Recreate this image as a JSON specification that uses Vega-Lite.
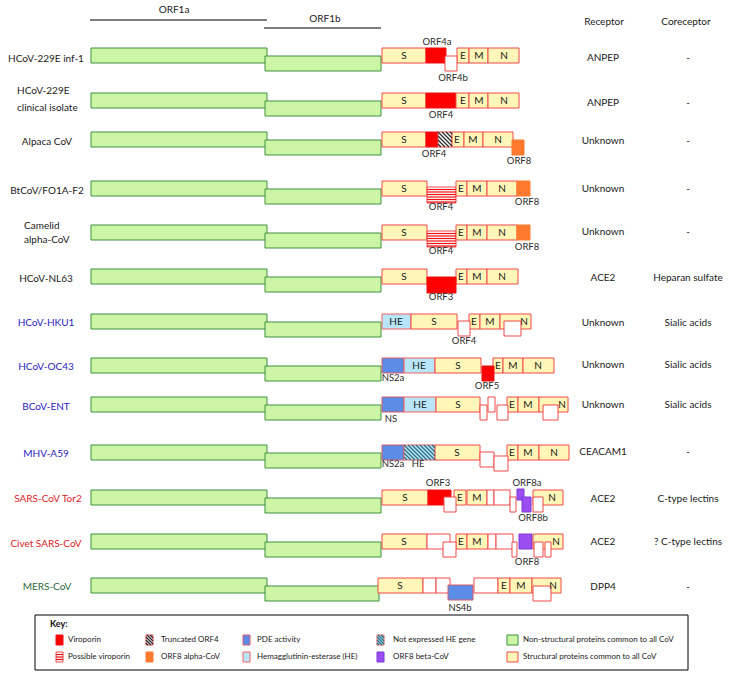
{
  "$schema": "https://vega.github.io/schema/vega-lite/v6.json",
  "width": 734,
  "height": 677,
  "autosize": {"type": "fit", "contains": "padding"},
  "padding": 0,
  "background": "#ffffff",
  "config": {"view": {"stroke": null}, "text": {"font": "Lato"}},
  "resolve": {"scale": {"color": "independent", "fill": "independent", "stroke": "independent"}},
  "datasets": {
    "boxes": [
      {"x0": 35, "x1": 688, "y0": 615, "y1": 670, "cat": "frame"},
      {"x0": 91, "x1": 267, "y0": 48, "y1": 63, "cat": "nsp"},
      {"x0": 265, "x1": 381, "y0": 56, "y1": 71, "cat": "nsp"},
      {"x0": 382, "x1": 426, "y0": 48, "y1": 63, "cat": "struct"},
      {"x0": 426, "x1": 446, "y0": 48, "y1": 63, "cat": "vir"},
      {"x0": 457, "x1": 469, "y0": 48, "y1": 63, "cat": "struct"},
      {"x0": 469, "x1": 488, "y0": 48, "y1": 63, "cat": "struct"},
      {"x0": 488, "x1": 519, "y0": 48, "y1": 63, "cat": "struct"},
      {"x0": 445, "x1": 457, "y0": 56, "y1": 71, "cat": "acc"},

      {"x0": 91, "x1": 267, "y0": 93, "y1": 108, "cat": "nsp"},
      {"x0": 265, "x1": 381, "y0": 101, "y1": 116, "cat": "nsp"},
      {"x0": 382, "x1": 426, "y0": 93, "y1": 108, "cat": "struct"},
      {"x0": 426, "x1": 456, "y0": 93, "y1": 108, "cat": "vir"},
      {"x0": 456, "x1": 469, "y0": 93, "y1": 108, "cat": "struct"},
      {"x0": 469, "x1": 488, "y0": 93, "y1": 108, "cat": "struct"},
      {"x0": 488, "x1": 519, "y0": 93, "y1": 108, "cat": "struct"},

      {"x0": 91, "x1": 267, "y0": 132, "y1": 147, "cat": "nsp"},
      {"x0": 265, "x1": 381, "y0": 140, "y1": 155, "cat": "nsp"},
      {"x0": 382, "x1": 426, "y0": 132, "y1": 147, "cat": "struct"},
      {"x0": 426, "x1": 438, "y0": 132, "y1": 147, "cat": "vir"},
      {"x0": 438, "x1": 452, "y0": 132, "y1": 147, "cat": "trunc"},
      {"x0": 452, "x1": 464, "y0": 132, "y1": 147, "cat": "struct"},
      {"x0": 464, "x1": 483, "y0": 132, "y1": 147, "cat": "struct"},
      {"x0": 483, "x1": 513, "y0": 132, "y1": 147, "cat": "struct"},
      {"x0": 512, "x1": 524, "y0": 140, "y1": 155, "cat": "orf8a"},

      {"x0": 91, "x1": 267, "y0": 181, "y1": 196, "cat": "nsp"},
      {"x0": 265, "x1": 381, "y0": 189, "y1": 204, "cat": "nsp"},
      {"x0": 382, "x1": 427, "y0": 181, "y1": 196, "cat": "struct"},
      {"x0": 427, "x1": 456, "y0": 187, "y1": 203, "cat": "poss"},
      {"x0": 456, "x1": 467, "y0": 181, "y1": 196, "cat": "struct"},
      {"x0": 467, "x1": 487, "y0": 181, "y1": 196, "cat": "struct"},
      {"x0": 487, "x1": 517, "y0": 181, "y1": 196, "cat": "struct"},
      {"x0": 517, "x1": 530, "y0": 181, "y1": 196, "cat": "orf8a"},

      {"x0": 91, "x1": 267, "y0": 225, "y1": 240, "cat": "nsp"},
      {"x0": 265, "x1": 381, "y0": 233, "y1": 248, "cat": "nsp"},
      {"x0": 382, "x1": 427, "y0": 225, "y1": 240, "cat": "struct"},
      {"x0": 427, "x1": 456, "y0": 231, "y1": 247, "cat": "poss"},
      {"x0": 456, "x1": 467, "y0": 225, "y1": 240, "cat": "struct"},
      {"x0": 467, "x1": 487, "y0": 225, "y1": 240, "cat": "struct"},
      {"x0": 487, "x1": 517, "y0": 225, "y1": 240, "cat": "struct"},
      {"x0": 517, "x1": 530, "y0": 225, "y1": 240, "cat": "orf8a"},

      {"x0": 91, "x1": 267, "y0": 269, "y1": 284, "cat": "nsp"},
      {"x0": 265, "x1": 381, "y0": 277, "y1": 292, "cat": "nsp"},
      {"x0": 382, "x1": 427, "y0": 269, "y1": 284, "cat": "struct"},
      {"x0": 456, "x1": 467, "y0": 269, "y1": 284, "cat": "struct"},
      {"x0": 467, "x1": 487, "y0": 269, "y1": 284, "cat": "struct"},
      {"x0": 487, "x1": 518, "y0": 269, "y1": 284, "cat": "struct"},
      {"x0": 427, "x1": 456, "y0": 277, "y1": 293, "cat": "vir"},

      {"x0": 91, "x1": 267, "y0": 314, "y1": 329, "cat": "nsp"},
      {"x0": 265, "x1": 381, "y0": 322, "y1": 337, "cat": "nsp"},
      {"x0": 382, "x1": 411, "y0": 314, "y1": 329, "cat": "he"},
      {"x0": 411, "x1": 457, "y0": 314, "y1": 329, "cat": "struct"},
      {"x0": 469, "x1": 480, "y0": 314, "y1": 329, "cat": "struct"},
      {"x0": 480, "x1": 500, "y0": 314, "y1": 329, "cat": "struct"},
      {"x0": 500, "x1": 531, "y0": 314, "y1": 329, "cat": "struct"},
      {"x0": 458, "x1": 470, "y0": 321, "y1": 336, "cat": "acc"},
      {"x0": 504, "x1": 521, "y0": 321, "y1": 336, "cat": "acc"},

      {"x0": 91, "x1": 267, "y0": 358, "y1": 373, "cat": "nsp"},
      {"x0": 265, "x1": 381, "y0": 366, "y1": 381, "cat": "nsp"},
      {"x0": 382, "x1": 404, "y0": 358, "y1": 373, "cat": "pde"},
      {"x0": 404, "x1": 435, "y0": 358, "y1": 373, "cat": "he"},
      {"x0": 435, "x1": 481, "y0": 358, "y1": 373, "cat": "struct"},
      {"x0": 493, "x1": 503, "y0": 358, "y1": 373, "cat": "struct"},
      {"x0": 503, "x1": 523, "y0": 358, "y1": 373, "cat": "struct"},
      {"x0": 523, "x1": 554, "y0": 358, "y1": 373, "cat": "struct"},
      {"x0": 482, "x1": 494, "y0": 366, "y1": 381, "cat": "vir"},

      {"x0": 91, "x1": 267, "y0": 397, "y1": 412, "cat": "nsp"},
      {"x0": 265, "x1": 381, "y0": 405, "y1": 420, "cat": "nsp"},
      {"x0": 382, "x1": 404, "y0": 397, "y1": 412, "cat": "pde"},
      {"x0": 404, "x1": 436, "y0": 397, "y1": 412, "cat": "he"},
      {"x0": 436, "x1": 480, "y0": 397, "y1": 412, "cat": "struct"},
      {"x0": 488, "x1": 495, "y0": 397, "y1": 412, "cat": "acc"},
      {"x0": 507, "x1": 518, "y0": 397, "y1": 412, "cat": "struct"},
      {"x0": 518, "x1": 539, "y0": 397, "y1": 412, "cat": "struct"},
      {"x0": 539, "x1": 568, "y0": 397, "y1": 412, "cat": "struct"},
      {"x0": 480, "x1": 487, "y0": 405, "y1": 420, "cat": "acc"},
      {"x0": 497, "x1": 508, "y0": 405, "y1": 420, "cat": "acc"},
      {"x0": 543, "x1": 558, "y0": 405, "y1": 420, "cat": "acc"},

      {"x0": 91, "x1": 267, "y0": 445, "y1": 460, "cat": "nsp"},
      {"x0": 265, "x1": 381, "y0": 453, "y1": 468, "cat": "nsp"},
      {"x0": 382, "x1": 404, "y0": 445, "y1": 460, "cat": "pde"},
      {"x0": 404, "x1": 435, "y0": 445, "y1": 460, "cat": "nothe"},
      {"x0": 435, "x1": 480, "y0": 445, "y1": 460, "cat": "struct"},
      {"x0": 507, "x1": 518, "y0": 445, "y1": 460, "cat": "struct"},
      {"x0": 518, "x1": 539, "y0": 445, "y1": 460, "cat": "struct"},
      {"x0": 539, "x1": 569, "y0": 445, "y1": 460, "cat": "struct"},
      {"x0": 480, "x1": 494, "y0": 452, "y1": 467, "cat": "acc"},
      {"x0": 494, "x1": 508, "y0": 456, "y1": 471, "cat": "acc"},

      {"x0": 91, "x1": 267, "y0": 490, "y1": 505, "cat": "nsp"},
      {"x0": 265, "x1": 381, "y0": 498, "y1": 513, "cat": "nsp"},
      {"x0": 382, "x1": 428, "y0": 490, "y1": 505, "cat": "struct"},
      {"x0": 428, "x1": 451, "y0": 490, "y1": 505, "cat": "vir"},
      {"x0": 454, "x1": 466, "y0": 490, "y1": 505, "cat": "struct"},
      {"x0": 467, "x1": 487, "y0": 490, "y1": 505, "cat": "struct"},
      {"x0": 487, "x1": 494, "y0": 490, "y1": 505, "cat": "acc"},
      {"x0": 494, "x1": 510, "y0": 490, "y1": 505, "cat": "acc"},
      {"x0": 533, "x1": 563, "y0": 490, "y1": 505, "cat": "struct"},
      {"x0": 444, "x1": 456, "y0": 497, "y1": 512, "cat": "acc"},
      {"x0": 510, "x1": 516, "y0": 497, "y1": 512, "cat": "acc"},
      {"x0": 517, "x1": 524, "y0": 489, "y1": 500, "cat": "orf8b"},
      {"x0": 522, "x1": 531, "y0": 497, "y1": 512, "cat": "orf8b"},
      {"x0": 533, "x1": 543, "y0": 497, "y1": 512, "cat": "acc"},

      {"x0": 91, "x1": 267, "y0": 534, "y1": 549, "cat": "nsp"},
      {"x0": 265, "x1": 381, "y0": 542, "y1": 557, "cat": "nsp"},
      {"x0": 382, "x1": 427, "y0": 534, "y1": 549, "cat": "struct"},
      {"x0": 427, "x1": 450, "y0": 534, "y1": 549, "cat": "acc"},
      {"x0": 456, "x1": 467, "y0": 534, "y1": 549, "cat": "struct"},
      {"x0": 467, "x1": 488, "y0": 534, "y1": 549, "cat": "struct"},
      {"x0": 488, "x1": 496, "y0": 534, "y1": 549, "cat": "acc"},
      {"x0": 496, "x1": 513, "y0": 534, "y1": 549, "cat": "acc"},
      {"x0": 519, "x1": 532, "y0": 534, "y1": 549, "cat": "orf8b"},
      {"x0": 533, "x1": 563, "y0": 534, "y1": 549, "cat": "struct"},
      {"x0": 443, "x1": 456, "y0": 542, "y1": 557, "cat": "acc"},
      {"x0": 512, "x1": 517, "y0": 542, "y1": 557, "cat": "acc"},
      {"x0": 534, "x1": 543, "y0": 542, "y1": 557, "cat": "acc"},
      {"x0": 545, "x1": 551, "y0": 542, "y1": 557, "cat": "acc"},

      {"x0": 91, "x1": 267, "y0": 578, "y1": 593, "cat": "nsp"},
      {"x0": 265, "x1": 379, "y0": 586, "y1": 601, "cat": "nsp"},
      {"x0": 378, "x1": 423, "y0": 578, "y1": 593, "cat": "struct"},
      {"x0": 423, "x1": 436, "y0": 578, "y1": 593, "cat": "acc"},
      {"x0": 436, "x1": 450, "y0": 578, "y1": 593, "cat": "acc"},
      {"x0": 474, "x1": 498, "y0": 578, "y1": 593, "cat": "acc"},
      {"x0": 498, "x1": 510, "y0": 578, "y1": 593, "cat": "struct"},
      {"x0": 510, "x1": 532, "y0": 578, "y1": 593, "cat": "struct"},
      {"x0": 532, "x1": 561, "y0": 578, "y1": 593, "cat": "struct"},
      {"x0": 533, "x1": 551, "y0": 586, "y1": 601, "cat": "acc"},
      {"x0": 448, "x1": 473, "y0": 585, "y1": 600, "cat": "pde"},

      {"x0": 56, "x1": 63, "y0": 635, "y1": 645, "cat": "vir"},
      {"x0": 56, "x1": 63, "y0": 652, "y1": 662, "cat": "poss"},
      {"x0": 146, "x1": 153, "y0": 635, "y1": 645, "cat": "trunc"},
      {"x0": 146, "x1": 153, "y0": 652, "y1": 662, "cat": "orf8a"},
      {"x0": 243, "x1": 250, "y0": 635, "y1": 645, "cat": "pde"},
      {"x0": 243, "x1": 250, "y0": 652, "y1": 662, "cat": "he"},
      {"x0": 377, "x1": 384, "y0": 635, "y1": 645, "cat": "nothe"},
      {"x0": 377, "x1": 384, "y0": 652, "y1": 662, "cat": "orf8b"},
      {"x0": 507, "x1": 518, "y0": 635, "y1": 645, "cat": "nsp"},
      {"x0": 507, "x1": 518, "y0": 652, "y1": 662, "cat": "struct"}
    ],
    "lines": [
      {"x0": 90, "y0": 20, "x1": 267, "y1": 20, "cat": "hdr"},
      {"x0": 264, "y0": 28, "x1": 381, "y1": 28, "cat": "hdr"},

      {"x0": 427, "y0": 189.5, "x1": 456, "y1": 189.5, "cat": "poss"},
      {"x0": 427, "y0": 192, "x1": 456, "y1": 192, "cat": "poss"},
      {"x0": 427, "y0": 194.5, "x1": 456, "y1": 194.5, "cat": "poss"},
      {"x0": 427, "y0": 197, "x1": 456, "y1": 197, "cat": "poss"},
      {"x0": 427, "y0": 199.5, "x1": 456, "y1": 199.5, "cat": "poss"},
      {"x0": 427, "y0": 202, "x1": 456, "y1": 202, "cat": "poss"},
      {"x0": 427, "y0": 233.5, "x1": 456, "y1": 233.5, "cat": "poss"},
      {"x0": 427, "y0": 236, "x1": 456, "y1": 236, "cat": "poss"},
      {"x0": 427, "y0": 238.5, "x1": 456, "y1": 238.5, "cat": "poss"},
      {"x0": 427, "y0": 241, "x1": 456, "y1": 241, "cat": "poss"},
      {"x0": 427, "y0": 243.5, "x1": 456, "y1": 243.5, "cat": "poss"},
      {"x0": 427, "y0": 246, "x1": 456, "y1": 246, "cat": "poss"},
      {"x0": 56, "y0": 654.5, "x1": 63, "y1": 654.5, "cat": "poss"},
      {"x0": 56, "y0": 657, "x1": 63, "y1": 657, "cat": "poss"},
      {"x0": 56, "y0": 659.5, "x1": 63, "y1": 659.5, "cat": "poss"},

      {"x0": 438, "y0": 144, "x1": 441, "y1": 147, "cat": "trunc"},
      {"x0": 438, "y0": 140, "x1": 445, "y1": 147, "cat": "trunc"},
      {"x0": 438, "y0": 136, "x1": 449, "y1": 147, "cat": "trunc"},
      {"x0": 438, "y0": 132, "x1": 452, "y1": 146, "cat": "trunc"},
      {"x0": 442, "y0": 132, "x1": 452, "y1": 142, "cat": "trunc"},
      {"x0": 446, "y0": 132, "x1": 452, "y1": 138, "cat": "trunc"},
      {"x0": 450, "y0": 132, "x1": 452, "y1": 134, "cat": "trunc"},
      {"x0": 146, "y0": 643, "x1": 148, "y1": 645, "cat": "trunc"},
      {"x0": 146, "y0": 640, "x1": 151, "y1": 645, "cat": "trunc"},
      {"x0": 146, "y0": 637, "x1": 153, "y1": 644, "cat": "trunc"},
      {"x0": 147, "y0": 635, "x1": 153, "y1": 641, "cat": "trunc"},
      {"x0": 150, "y0": 635, "x1": 153, "y1": 638, "cat": "trunc"},

      {"x0": 404, "y0": 457, "x1": 407, "y1": 460, "cat": "nothe"},
      {"x0": 404, "y0": 453, "x1": 411, "y1": 460, "cat": "nothe"},
      {"x0": 404, "y0": 449, "x1": 415, "y1": 460, "cat": "nothe"},
      {"x0": 404, "y0": 445, "x1": 419, "y1": 460, "cat": "nothe"},
      {"x0": 408, "y0": 445, "x1": 423, "y1": 460, "cat": "nothe"},
      {"x0": 412, "y0": 445, "x1": 427, "y1": 460, "cat": "nothe"},
      {"x0": 416, "y0": 445, "x1": 431, "y1": 460, "cat": "nothe"},
      {"x0": 420, "y0": 445, "x1": 435, "y1": 460, "cat": "nothe"},
      {"x0": 424, "y0": 445, "x1": 435, "y1": 456, "cat": "nothe"},
      {"x0": 428, "y0": 445, "x1": 435, "y1": 452, "cat": "nothe"},
      {"x0": 432, "y0": 445, "x1": 435, "y1": 448, "cat": "nothe"},
      {"x0": 377, "y0": 643, "x1": 379, "y1": 645, "cat": "nothe"},
      {"x0": 377, "y0": 640, "x1": 382, "y1": 645, "cat": "nothe"},
      {"x0": 377, "y0": 637, "x1": 384, "y1": 644, "cat": "nothe"},
      {"x0": 378, "y0": 635, "x1": 384, "y1": 641, "cat": "nothe"},
      {"x0": 381, "y0": 635, "x1": 384, "y1": 638, "cat": "nothe"}
    ],
    "texts": [
      {"t": "HCoV-229E inf-1", "x": 46, "y": 59, "k": "sp", "g": "a"},
      {"t": "Alpaca CoV", "x": 47, "y": 142, "k": "sp", "g": "a"},
      {"t": "BtCoV/FO1A-F2", "x": 47, "y": 191, "k": "sp", "g": "a"},
      {"t": "HCoV-NL63", "x": 46, "y": 279, "k": "sp", "g": "a"},
      {"t": "HCoV-HKU1", "x": 46, "y": 323, "k": "sp", "g": "b"},
      {"t": "HCoV-OC43", "x": 46, "y": 367, "k": "sp", "g": "b"},
      {"t": "BCoV-ENT", "x": 46, "y": 407, "k": "sp", "g": "b"},
      {"t": "MHV-A59", "x": 46, "y": 454, "k": "sp", "g": "b"},
      {"t": "SARS-CoV Tor2", "x": 48, "y": 499, "k": "sp", "g": "s"},
      {"t": "Civet SARS-CoV", "x": 46, "y": 544, "k": "sp", "g": "s"},
      {"t": "MERS-CoV", "x": 47, "y": 587, "k": "sp", "g": "m"},

      {"t": "HCoV-229E", "x": 17, "y": 91, "k": "spl"},
      {"t": "clinical isolate", "x": 17, "y": 108, "k": "spl"},
      {"t": "Camelid", "x": 24, "y": 226, "k": "spl"},
      {"t": "alpha-CoV", "x": 24, "y": 240, "k": "spl"},

      {"t": "ORF1a", "x": 174, "y": 10, "k": "col"},
      {"t": "ORF1b", "x": 325, "y": 19, "k": "col"},
      {"t": "Receptor", "x": 604, "y": 22, "k": "col"},
      {"t": "Coreceptor", "x": 686, "y": 22, "k": "col"},
      {"t": "ANPEP", "x": 603, "y": 58, "k": "col"},
      {"t": "ANPEP", "x": 603, "y": 103, "k": "col"},
      {"t": "Unknown", "x": 603, "y": 141, "k": "col"},
      {"t": "Unknown", "x": 603, "y": 189, "k": "col"},
      {"t": "Unknown", "x": 603, "y": 232, "k": "col"},
      {"t": "ACE2", "x": 603, "y": 278, "k": "col"},
      {"t": "Unknown", "x": 603, "y": 323, "k": "col"},
      {"t": "Unknown", "x": 603, "y": 365, "k": "col"},
      {"t": "Unknown", "x": 603, "y": 405, "k": "col"},
      {"t": "CEACAM1", "x": 603, "y": 452, "k": "col"},
      {"t": "ACE2", "x": 603, "y": 499, "k": "col"},
      {"t": "ACE2", "x": 603, "y": 542, "k": "col"},
      {"t": "DPP4", "x": 603, "y": 587, "k": "col"},
      {"t": "-", "x": 688, "y": 58, "k": "col"},
      {"t": "-", "x": 688, "y": 103, "k": "col"},
      {"t": "-", "x": 688, "y": 141, "k": "col"},
      {"t": "-", "x": 688, "y": 189, "k": "col"},
      {"t": "-", "x": 688, "y": 232, "k": "col"},
      {"t": "Heparan sulfate", "x": 688, "y": 278, "k": "col"},
      {"t": "Sialic acids", "x": 688, "y": 323, "k": "col"},
      {"t": "Sialic acids", "x": 688, "y": 365, "k": "col"},
      {"t": "Sialic acids", "x": 688, "y": 405, "k": "col"},
      {"t": "-", "x": 688, "y": 452, "k": "col"},
      {"t": "C-type lectins", "x": 688, "y": 499, "k": "col"},
      {"t": "? C-type lectins", "x": 688, "y": 542, "k": "col"},
      {"t": "-", "x": 688, "y": 587, "k": "col"},

      {"t": "S", "x": 404, "y": 56, "k": "box"},
      {"t": "E", "x": 463, "y": 56, "k": "box"},
      {"t": "M", "x": 479, "y": 56, "k": "box"},
      {"t": "N", "x": 504, "y": 56, "k": "box"},
      {"t": "S", "x": 404, "y": 101, "k": "box"},
      {"t": "E", "x": 463, "y": 101, "k": "box"},
      {"t": "M", "x": 479, "y": 101, "k": "box"},
      {"t": "N", "x": 504, "y": 101, "k": "box"},
      {"t": "S", "x": 404, "y": 140, "k": "box"},
      {"t": "E", "x": 457, "y": 140, "k": "box"},
      {"t": "M", "x": 473, "y": 140, "k": "box"},
      {"t": "N", "x": 498, "y": 140, "k": "box"},
      {"t": "S", "x": 404, "y": 189, "k": "box"},
      {"t": "E", "x": 461, "y": 189, "k": "box"},
      {"t": "M", "x": 477, "y": 189, "k": "box"},
      {"t": "N", "x": 502, "y": 189, "k": "box"},
      {"t": "S", "x": 404, "y": 233, "k": "box"},
      {"t": "E", "x": 461, "y": 233, "k": "box"},
      {"t": "M", "x": 477, "y": 233, "k": "box"},
      {"t": "N", "x": 502, "y": 233, "k": "box"},
      {"t": "S", "x": 404, "y": 277, "k": "box"},
      {"t": "E", "x": 461, "y": 277, "k": "box"},
      {"t": "M", "x": 477, "y": 277, "k": "box"},
      {"t": "N", "x": 502, "y": 277, "k": "box"},
      {"t": "HE", "x": 396, "y": 322, "k": "box"},
      {"t": "S", "x": 434, "y": 322, "k": "box"},
      {"t": "E", "x": 474, "y": 322, "k": "box"},
      {"t": "M", "x": 490, "y": 322, "k": "box"},
      {"t": "N", "x": 524, "y": 322, "k": "box"},
      {"t": "HE", "x": 419, "y": 366, "k": "box"},
      {"t": "S", "x": 458, "y": 366, "k": "box"},
      {"t": "E", "x": 498, "y": 366, "k": "box"},
      {"t": "M", "x": 513, "y": 366, "k": "box"},
      {"t": "N", "x": 538, "y": 366, "k": "box"},
      {"t": "HE", "x": 420, "y": 405, "k": "box"},
      {"t": "S", "x": 458, "y": 405, "k": "box"},
      {"t": "E", "x": 512, "y": 405, "k": "box"},
      {"t": "M", "x": 528, "y": 405, "k": "box"},
      {"t": "N", "x": 562, "y": 405, "k": "box"},
      {"t": "S", "x": 457, "y": 453, "k": "box"},
      {"t": "E", "x": 512, "y": 453, "k": "box"},
      {"t": "M", "x": 528, "y": 453, "k": "box"},
      {"t": "N", "x": 554, "y": 453, "k": "box"},
      {"t": "S", "x": 405, "y": 498, "k": "box"},
      {"t": "E", "x": 460, "y": 498, "k": "box"},
      {"t": "M", "x": 477, "y": 498, "k": "box"},
      {"t": "N", "x": 552, "y": 498, "k": "box"},
      {"t": "S", "x": 404, "y": 542, "k": "box"},
      {"t": "E", "x": 461, "y": 542, "k": "box"},
      {"t": "M", "x": 477, "y": 542, "k": "box"},
      {"t": "N", "x": 556, "y": 542, "k": "box"},
      {"t": "S", "x": 400, "y": 586, "k": "box"},
      {"t": "E", "x": 504, "y": 586, "k": "box"},
      {"t": "M", "x": 521, "y": 586, "k": "box"},
      {"t": "N", "x": 553, "y": 586, "k": "box"},

      {"t": "ORF4a", "x": 437, "y": 42, "k": "orf"},
      {"t": "ORF4b", "x": 453, "y": 78, "k": "orf"},
      {"t": "ORF4", "x": 441, "y": 115, "k": "orf"},
      {"t": "ORF4", "x": 434, "y": 154, "k": "orf"},
      {"t": "ORF8", "x": 519, "y": 161, "k": "orf"},
      {"t": "ORF4", "x": 441, "y": 207, "k": "orf"},
      {"t": "ORF8", "x": 527, "y": 202, "k": "orf"},
      {"t": "ORF4", "x": 441, "y": 251, "k": "orf"},
      {"t": "ORF8", "x": 527, "y": 247, "k": "orf"},
      {"t": "ORF3", "x": 441, "y": 297, "k": "orf"},
      {"t": "ORF4", "x": 464, "y": 341, "k": "orf"},
      {"t": "NS2a", "x": 393, "y": 378, "k": "orf"},
      {"t": "ORF5", "x": 487, "y": 386, "k": "orf"},
      {"t": "NS", "x": 391, "y": 419, "k": "orf"},
      {"t": "NS2a", "x": 393, "y": 464, "k": "orf"},
      {"t": "HE", "x": 418, "y": 464, "k": "orf"},
      {"t": "ORF3", "x": 438, "y": 483, "k": "orf"},
      {"t": "ORF8a", "x": 527, "y": 483, "k": "orf"},
      {"t": "ORF8b", "x": 533, "y": 518, "k": "orf"},
      {"t": "ORF8", "x": 527, "y": 562, "k": "orf"},
      {"t": "NS4b", "x": 460, "y": 608, "k": "orf"},

      {"t": "Viroporin", "x": 68, "y": 640, "k": "leg"},
      {"t": "Truncated ORF4", "x": 161, "y": 640, "k": "leg"},
      {"t": "PDE activity", "x": 257, "y": 640, "k": "leg"},
      {"t": "Not expressed HE gene", "x": 393, "y": 640, "k": "leg"},
      {"t": "Non-structural proteins common to all CoV", "x": 523, "y": 640, "k": "leg"},
      {"t": "Possible viroporin", "x": 68, "y": 657, "k": "leg"},
      {"t": "ORF8 alpha-CoV", "x": 161, "y": 657, "k": "leg"},
      {"t": "Hemagglutinin-esterase (HE)", "x": 257, "y": 657, "k": "leg"},
      {"t": "ORF8 beta-CoV", "x": 393, "y": 657, "k": "leg"},
      {"t": "Structural proteins common to all CoV", "x": 523, "y": 657, "k": "leg"},
      {"t": "Key:", "x": 50, "y": 624, "k": "key"}
    ]
  },
  "layer": [
    {
      "data": {"name": "boxes"},
      "mark": {"type": "rect", "strokeWidth": 1},
      "encoding": {
        "x": {"field": "x0", "type": "quantitative", "scale": {"domain": [0, 734], "nice": false, "zero": false}, "axis": null},
        "x2": {"field": "x1"},
        "y": {"field": "y0", "type": "quantitative", "scale": {"domain": [0, 677], "nice": false, "zero": false, "reverse": true}, "axis": null},
        "y2": {"field": "y1"},
        "fill": {"field": "cat", "type": "nominal", "legend": null, "scale": {"domain": ["frame", "nsp", "struct", "acc", "vir", "poss", "trunc", "pde", "he", "nothe", "orf8a", "orf8b"], "range": ["#ffffff", "#ccf5a6", "#fff6b8", "#ffffff", "#ff0000", "#ffffff", "#ffffff", "#5b8de6", "#b8e6f8", "#b8e6f8", "#ff7a2c", "#9b4df2"]}},
        "stroke": {"field": "cat", "type": "nominal", "legend": null, "scale": {"domain": ["frame", "nsp", "struct", "acc", "vir", "poss", "trunc", "pde", "he", "nothe", "orf8a", "orf8b"], "range": ["#000000", "#3e8f3e", "#f04848", "#f04848", "#e81010", "#f04848", "#f04848", "#d85a6a", "#f06060", "#f06060", "#ff7a2c", "#7b38d8"]}}
      }
    },
    {
      "data": {"name": "lines"},
      "mark": {"type": "rule", "strokeWidth": 1.2},
      "encoding": {
        "x": {"field": "x0", "type": "quantitative", "scale": {"domain": [0, 734], "nice": false, "zero": false}, "axis": null},
        "x2": {"field": "x1"},
        "y": {"field": "y0", "type": "quantitative", "scale": {"domain": [0, 677], "nice": false, "zero": false, "reverse": true}, "axis": null},
        "y2": {"field": "y1"},
        "color": {"field": "cat", "type": "nominal", "legend": null, "scale": {"domain": ["hdr", "poss", "trunc", "nothe"], "range": ["#000000", "#ee1111", "#2a2a2a", "#2b6f84"]}}
      }
    },
    {
      "data": {"name": "texts"},
      "transform": [{"filter": "datum.k === 'sp'"}],
      "mark": {"type": "text", "fontSize": 10, "align": "center", "baseline": "middle"},
      "encoding": {
        "x": {"field": "x", "type": "quantitative", "scale": {"domain": [0, 734], "nice": false, "zero": false}, "axis": null},
        "y": {"field": "y", "type": "quantitative", "scale": {"domain": [0, 677], "nice": false, "zero": false, "reverse": true}, "axis": null},
        "text": {"field": "t"},
        "color": {"field": "g", "type": "nominal", "legend": null, "scale": {"domain": ["a", "b", "s", "m"], "range": ["#1a1a1a", "#2a22c0", "#e0231c", "#2d6b3c"]}}
      }
    },
    {
      "data": {"name": "texts"},
      "transform": [{"filter": "datum.k === 'spl'"}],
      "mark": {"type": "text", "fontSize": 10, "align": "left", "baseline": "middle", "color": "#1a1a1a"},
      "encoding": {
        "x": {"field": "x", "type": "quantitative", "axis": null},
        "y": {"field": "y", "type": "quantitative", "axis": null},
        "text": {"field": "t"}
      }
    },
    {
      "data": {"name": "texts"},
      "transform": [{"filter": "datum.k === 'col' || datum.k === 'box'"}],
      "mark": {"type": "text", "fontSize": 10, "align": "center", "baseline": "middle", "color": "#1a1a1a"},
      "encoding": {
        "x": {"field": "x", "type": "quantitative", "axis": null},
        "y": {"field": "y", "type": "quantitative", "axis": null},
        "text": {"field": "t"}
      }
    },
    {
      "data": {"name": "texts"},
      "transform": [{"filter": "datum.k === 'orf'"}],
      "mark": {"type": "text", "fontSize": 9.5, "align": "center", "baseline": "middle", "color": "#2a2a2a"},
      "encoding": {
        "x": {"field": "x", "type": "quantitative", "axis": null},
        "y": {"field": "y", "type": "quantitative", "axis": null},
        "text": {"field": "t"}
      }
    },
    {
      "data": {"name": "texts"},
      "transform": [{"filter": "datum.k === 'leg'"}],
      "mark": {"type": "text", "fontSize": 8, "align": "left", "baseline": "middle", "color": "#1a1a1a"},
      "encoding": {
        "x": {"field": "x", "type": "quantitative", "axis": null},
        "y": {"field": "y", "type": "quantitative", "axis": null},
        "text": {"field": "t"}
      }
    },
    {
      "data": {"name": "texts"},
      "transform": [{"filter": "datum.k === 'key'"}],
      "mark": {"type": "text", "fontSize": 9, "fontWeight": "bold", "align": "left", "baseline": "middle", "color": "#111111"},
      "encoding": {
        "x": {"field": "x", "type": "quantitative", "axis": null},
        "y": {"field": "y", "type": "quantitative", "axis": null},
        "text": {"field": "t"}
      }
    }
  ]
}
